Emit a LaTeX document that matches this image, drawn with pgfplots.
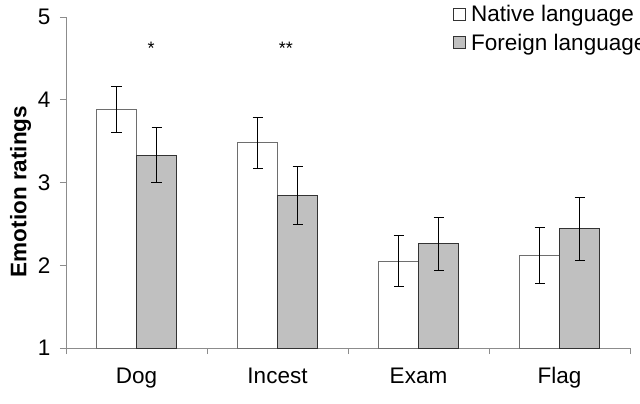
\documentclass[border=0pt]{standalone}
\usepackage{pgfplots}
\pgfplotsset{compat=1.18}
\usepackage{fontspec}
\setmainfont{Liberation Sans}

\definecolor{axisgray}{HTML}{8C8C8C}
\definecolor{barfill}{HTML}{C0C0C0}
\definecolor{baredge}{HTML}{6E6E6E}

% mean emotion ratings with standard errors
\pgfplotstableread{
x  mean  err
1  3.88  0.28
2  3.48  0.31
3  2.05  0.31
4  2.12  0.34
}\nativedata
\pgfplotstableread{
x  mean  err
1  3.33  0.33
2  2.84  0.35
3  2.26  0.32
4  2.44  0.38
}\foreigndata

\begin{document}
\begin{tikzpicture}
\useasboundingbox (0,0) rectangle (640bp,404bp);
\begin{axis}[
  at={(66bp,56bp)}, anchor=south west,
  scale only axis, width=564bp, height=331bp,
  font=\fontsize{22.5bp}{26bp}\selectfont,
  /pgf/number format/assume math mode=true,
  xmin=0.5, xmax=4.5, ymin=1, ymax=5,
  axis x line=bottom, axis y line=left,
  axis line style={-, axisgray, line width=0.9pt},
  tick style={axisgray, line width=0.9pt},
  tick align=outside, major tick length=6bp,
  xtick={0.5,1.5,2.5,3.5,4.5},
  x tick label as interval,
  xticklabels={Dog,Incest,Exam,Flag},
  ytick={1,2,3,4,5},
  xticklabel style={yshift=-10bp},
  yticklabel style={xshift=-6bp},
  ylabel={\bfseries Emotion ratings},
  ylabel style={at={(ticklabel cs:0.5)}, anchor=south, xshift=-9bp},
  ybar=0pt, bar width=40bp,
  clip=false,
  legend style={draw=none, fill=none, at={(0.685,1.043)}, anchor=north west,
    font=\fontsize{22.5bp}{26bp}\selectfont, row sep=7bp, inner sep=0pt},
  legend cell align=left,
  error bars/y dir=both, error bars/y explicit,
  error bars/error bar style={black, line width=0.8pt},
  error bars/error mark options={black, rotate=90, mark size=5bp, line width=0.8pt},
]
\addplot[draw=baredge, fill=white, line width=0.8pt,
  legend image code/.code={\draw[black!80, fill=white, line width=0.6pt] (0bp,-6bp) rectangle (12bp,6bp);
    \path (16bp,0bp);}]
  table[x=x, y=mean, y error=err] {\nativedata};
\addlegendentry{Native language}
\addplot[draw=black!80, fill=barfill, line width=0.8pt,
  legend image code/.code={\draw[black!80, fill=barfill, line width=0.6pt] (0bp,-6bp) rectangle (12bp,6bp);
    \path (16bp,0bp);}]
  table[x=x, y=mean, y error=err] {\foreigndata};
\addlegendentry{Foreign language}
\node[font=\fontsize{18bp}{20bp}\selectfont] at (axis cs:1.103,4.62) {*};
\node[font=\fontsize{18bp}{20bp}\selectfont] at (axis cs:2.06,4.62) {**};
\end{axis}
\end{tikzpicture}
\end{document}
